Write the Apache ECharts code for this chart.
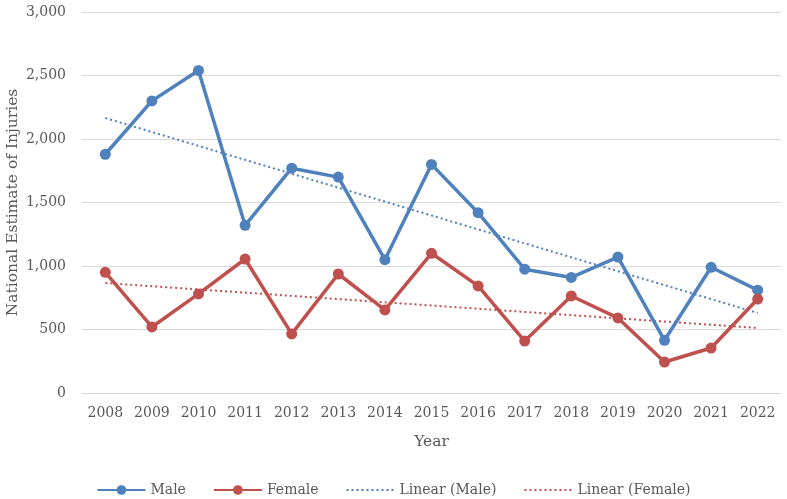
<!DOCTYPE html>
<html>
<head>
<meta charset="utf-8">
<script src="https://cdn.jsdelivr.net/npm/echarts@6/dist/echarts.min.js"></script>
<style>html,body{margin:0;padding:0;background:#fff}#c{width:787px;height:499px}</style>
</head>
<body>
<div id="c"></div>
<script>
const years = ['2008','2009','2010','2011','2012','2013','2014','2015','2016','2017','2018','2019','2020','2021','2022'];
const male = [1880, 2300, 2540, 1320, 1770, 1700, 1050, 1800, 1420, 975, 910, 1070, 415, 990, 810];
const female = [950, 520, 780, 1055, 465, 937, 654, 1100, 843, 409, 764, 591, 244, 354, 740];
const maleTrend = [2165, null, null, null, null, null, null, null, null, null, null, null, null, null, 630];
const femaleTrend = [866, null, null, null, null, null, null, null, null, null, null, null, null, null, 512];

const FONT = 'DejaVu Serif';
const chart = echarts.init(document.getElementById('c'), null, {renderer: 'canvas'});
chart.setOption({
  animation: false,
  textStyle: {fontFamily: FONT},
  grid: {left: 82, right: 6, top: 12, bottom: 106, containLabel: false, outerBoundsMode: 'none'},
  legend: {
    top: 478, left: 'center', itemWidth: 48, itemHeight: 12, itemGap: 27,
    textStyle: {fontFamily: FONT, fontSize: 14, color: '#595959'},
    data: [
      {name: 'Male'},
      {name: 'Female'},
      {name: 'Linear (Male)', itemStyle: {opacity: 0}},
      {name: 'Linear (Female)', itemStyle: {opacity: 0}}
    ]
  },
  xAxis: {
    type: 'category', data: years, boundaryGap: true,
    name: 'Year', nameLocation: 'middle', nameGap: 41,
    nameTextStyle: {fontFamily: FONT, fontSize: 15.5, color: '#595959'},
    axisLine: {lineStyle: {color: '#d9d9d9', width: 1}},
    axisTick: {show: false},
    axisLabel: {fontFamily: FONT, fontSize: 14, color: '#595959', margin: 13}
  },
  yAxis: {
    type: 'value', min: 0, max: 3000, interval: 500,
    name: 'National Estimate of Injuries', nameLocation: 'middle', nameGap: 61,
    nameMoveOverlap: false,
    nameTextStyle: {fontFamily: FONT, fontSize: 15.5, color: '#595959'},
    axisLine: {show: false}, axisTick: {show: false},
    splitLine: {lineStyle: {color: '#d9d9d9', width: 1}},
    axisLabel: {fontFamily: FONT, fontSize: 14, color: '#595959', margin: 16,
      formatter: v => v.toLocaleString('en-US')}
  },
  series: [
    {name: 'Male', type: 'line', data: male, symbol: 'circle', symbolSize: 11,
      lineStyle: {color: '#4f81bd', width: 3.5}, itemStyle: {color: '#4f81bd'}, z: 3},
    {name: 'Female', type: 'line', data: female, symbol: 'circle', symbolSize: 11,
      lineStyle: {color: '#c0504d', width: 3.5}, itemStyle: {color: '#c0504d'}, z: 3},
    {name: 'Linear (Male)', type: 'line', data: maleTrend, connectNulls: true, symbol: 'none',
      lineStyle: {color: '#4f81bd', width: 2, type: [2, 3]}, itemStyle: {color: '#4f81bd'}, z: 2},
    {name: 'Linear (Female)', type: 'line', data: femaleTrend, connectNulls: true, symbol: 'none',
      lineStyle: {color: '#c0504d', width: 2, type: [2, 3]}, itemStyle: {color: '#c0504d'}, z: 2}
  ]
});
</script>
</body>
</html>
